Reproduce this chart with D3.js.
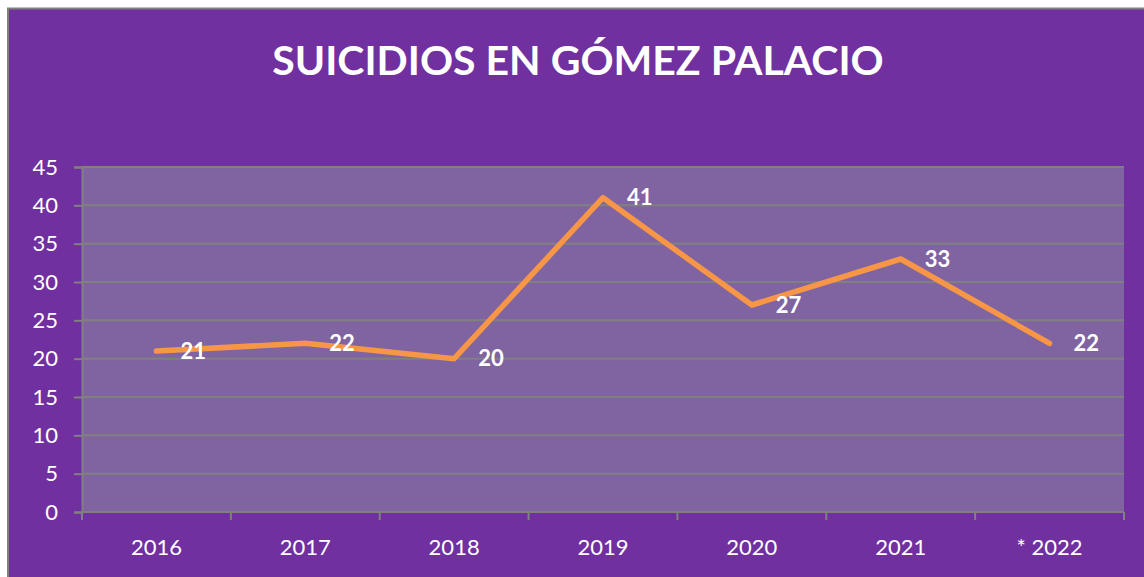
<!DOCTYPE html>
<html>
<head>
<meta charset="utf-8">
<script src="https://cdn.jsdelivr.net/npm/d3@7"></script>
<style>
  html, body { margin: 0; padding: 0; background: #ffffff; }
  svg { display: block; }
  text { font-family: Lato, "Open Sans", sans-serif; }
</style>
</head>
<body>
<div id="chart"></div>
<script>
// chart data
const years = ["2016", "2017", "2018", "2019", "2020", "2021", "* 2022"];
const suicides = [21, 22, 20, 41, 27, 33, 22];
const yTicks = [0, 5, 10, 15, 20, 25, 30, 35, 40, 45];
const title = "SUICIDIOS EN GÓMEZ PALACIO";

const W = 1144, H = 577;
const plot = { left: 82, right: 1124, top: 167, bottom: 512 };

const svg = d3.select("#chart").append("svg")
    .attr("width", W)
    .attr("height", H);

// outer chart area
svg.append("rect")
    .attr("x", 8).attr("y", 8.5)
    .attr("width", W).attr("height", H)
    .attr("fill", "#7030a0")
    .attr("stroke", "#808080")
    .attr("stroke-width", 2);

// plot area
svg.append("rect")
    .attr("x", plot.left).attr("y", plot.top)
    .attr("width", plot.right - plot.left)
    .attr("height", plot.bottom - plot.top)
    .attr("fill", "#8064a2");

const x = d3.scaleBand().domain(years).range([plot.left, plot.right]);
const y = d3.scaleLinear().domain([0, 45]).range([plot.bottom, plot.top]);

// gridlines
svg.append("g")
    .selectAll("line")
    .data(yTicks.filter(d => d > 0))
    .enter().append("line")
    .attr("x1", plot.left).attr("x2", plot.right)
    .attr("y1", d => y(d)).attr("y2", d => y(d))
    .attr("stroke", "#808080")
    .attr("stroke-width", 2);

// y axis
const yAxis = svg.append("g")
    .attr("transform", "translate(" + plot.left + ",0)")
    .call(d3.axisLeft(y).tickValues(yTicks).tickSize(8).tickPadding(16));
yAxis.select(".domain").attr("stroke", "#808080").attr("stroke-width", 2);
yAxis.selectAll(".tick line").attr("stroke", "#808080").attr("stroke-width", 2);
yAxis.selectAll(".tick text")
    .attr("fill", "#ffffff")
    .style("font-size", "22px")
    .style("font-family", "Lato, 'Open Sans', sans-serif");

// x axis, ticks sit between categories
const xAxis = svg.append("g")
    .attr("transform", "translate(0," + plot.bottom + ")");
xAxis.append("line")
    .attr("x1", plot.left).attr("x2", plot.right)
    .attr("stroke", "#808080").attr("stroke-width", 2);
const edges = years.map(d => x(d)).concat([plot.right]);
xAxis.selectAll(".xt")
    .data(edges)
    .enter().append("line")
    .attr("class", "xt")
    .attr("x1", d => d).attr("x2", d => d)
    .attr("y1", 0).attr("y2", 8)
    .attr("stroke", "#808080").attr("stroke-width", 2);
xAxis.selectAll(".xl")
    .data(years)
    .enter().append("text")
    .attr("class", "xl")
    .attr("x", d => x(d) + x.bandwidth() / 2)
    .attr("y", 43)
    .attr("text-anchor", "middle")
    .attr("fill", "#ffffff")
    .style("font-size", "22px")
    .text(d => d);

// line
const line = d3.line()
    .x((d, i) => x(years[i]) + x.bandwidth() / 2)
    .y(d => y(d));

svg.append("path")
    .datum(suicides)
    .attr("d", line)
    .attr("fill", "none")
    .attr("stroke", "#f79646")
    .attr("stroke-width", 5.5)
    .attr("stroke-linejoin", "round")
    .attr("stroke-linecap", "round");

// data labels
svg.selectAll(".lbl")
    .data(suicides)
    .enter().append("text")
    .attr("class", "lbl")
    .attr("x", (d, i) => x(years[i]) + x.bandwidth() / 2 + 24)
    .attr("y", d => y(d))
    .attr("dy", "0.35em")
    .attr("fill", "#ffffff")
    .style("font-size", "22px")
    .style("font-weight", "bold")
    .text(d => d);

// title
svg.append("text")
    .attr("x", 578)
    .attr("y", 75)
    .attr("text-anchor", "middle")
    .attr("fill", "#ffffff")
    .style("font-size", "41px")
    .style("font-weight", "bold")
    .text(title);
</script>
</body>
</html>
